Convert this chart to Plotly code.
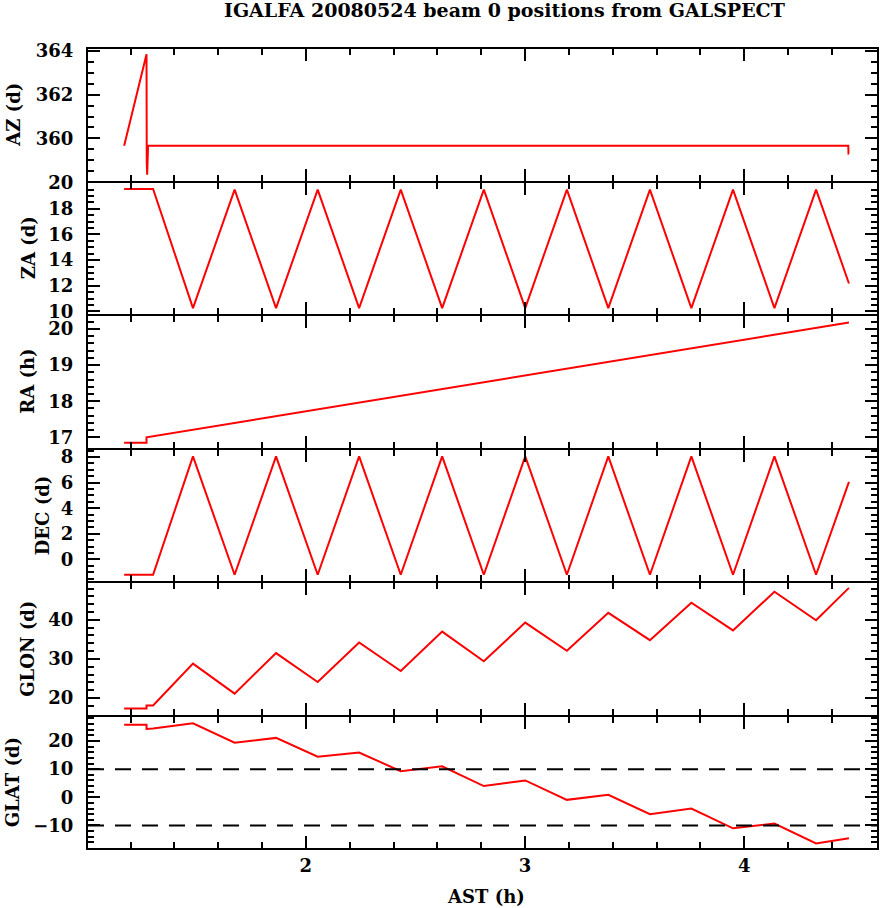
import plotly.graph_objects as go
from plotly.subplots import make_subplots

# ---------------- data ----------------
AZ_T = [1.171, 1.273, 1.274, 1.276, 1.280, 4.475, 4.476, 4.478]
AZ = [359.66, 363.85, 358.90, 358.34, 359.66, 359.66, 359.30, 359.30]

TURN_T = [1.171, 1.303, 1.485, 1.675, 1.864, 2.054, 2.243, 2.433, 2.622, 2.812,
          3.001, 3.191, 3.380, 3.570, 3.759, 3.949, 4.138, 4.328, 4.478]
ZA = [19.54, 19.54, 10.26, 19.50, 10.26, 19.50, 10.26, 19.50, 10.26, 19.50,
      10.26, 19.50, 10.26, 19.50, 10.26, 19.50, 10.26, 19.50, 12.18]
DEC = [-1.20, -1.20, 8.05, -1.20, 8.05, -1.20, 8.05, -1.20, 8.05, -1.20,
       8.05, -1.20, 8.05, -1.20, 8.05, -1.20, 8.05, -1.20, 6.06]

RA_T = [1.171, 1.273, 1.273, 4.478]
RA = [16.85, 16.85, 17.00, 20.18]

GAL_T = [1.171, 1.273, 1.273, 1.303, 1.485, 1.675, 1.864, 2.054, 2.243, 2.433,
         2.622, 2.812, 3.001, 3.191, 3.380, 3.570, 3.759, 3.949, 4.138, 4.328, 4.478]
GLON = [17.3, 17.3, 18.1, 18.1, 28.8, 21.1, 31.5, 24.1, 34.2, 26.9,
        37.0, 29.4, 39.3, 32.1, 41.8, 34.8, 44.4, 37.3, 47.2, 39.9, 48.2]
GLAT = [25.8, 25.8, 24.3, 24.4, 26.3, 19.4, 21.1, 14.4, 15.9, 9.3,
        11.0, 4.0, 6.0, -0.9, 0.9, -6.0, -4.0, -11.0, -9.3, -16.4, -14.5]

GLAT_REF = [10, -10]

PANEL_LABELS = ["AZ (d)", "ZA (d)", "RA (h)", "DEC (d)", "GLON (d)", "GLAT (d)"]
TITLE = "IGALFA 20080524 beam 0 positions from GALSPECT"
XLABEL = "AST (h)"

# ---------------- layout ----------------
W, H = 890, 908
L, R, T, B = 88, 13, 49, 60
PW, PH = W - L - R, H - T - B
GAP = 2  # px between panels, filled by the two 2px axis lines

FONT = dict(family="DejaVu Serif", size=18, color="black", weight="bold")
TFONT = dict(family="DejaVu Serif", size=19, color="black", weight="bold")
RED = "#ff0000"


def minor_cfg(step, lo, hi):
    base = dict(ticks="inside", ticklen=6, tickwidth=2, tickcolor="black",
                showgrid=False)
    if step == 0.2:
        k0 = int(round(lo / step)) + 1
        k1 = int(round(hi / step))
        base.update(tickmode="array",
                    tickvals=[round(k * step, 1) for k in range(k0, k1)])
    else:
        base.update(dtick=step, tick0=0)
    return base


series = [
    (AZ_T, AZ, [358.07, 364.09], 2, 0.5),
    (TURN_T, ZA, [9.8, 20.05], 2, 0.5),
    (RA_T, RA, [16.72, 20.36], 1, 0.2),
    (TURN_T, DEC, [-1.69, 8.59], 2, 0.5),
    (GAL_T, GLON, [15.77, 49.44], 10, 2),
    (GAL_T, GLAT, [-18.0, 28.7], 10, 2),
]
title_x = [14, 28, 28, 42, 28, 12]
XR = [1.006, 4.606]

n = len(series)
fig = make_subplots(rows=n, cols=1, shared_xaxes=True,
                    vertical_spacing=GAP / PH)
for i, (xs, ys, yr, dt, mdt) in enumerate(series):
    fig.add_trace(go.Scatter(x=xs, y=ys, mode="lines",
                             line=dict(color=RED, width=2), showlegend=False),
                  row=i + 1, col=1)
    fig.update_yaxes(range=yr, dtick=dt, tick0=0, row=i + 1, col=1,
                     ticks="inside", ticklen=12, tickwidth=2, tickcolor="black",
                     showline=True, linewidth=2, linecolor="black",
                     mirror="ticks", showgrid=False, zeroline=False,
                     tickfont=FONT, ticklabelstandoff=9,
                     minor=minor_cfg(mdt, yr[0], yr[1]))
    k = "" if i == 0 else str(i + 1)
    dom = fig.layout["yaxis" + k].domain
    fig.add_annotation(text=PANEL_LABELS[i], textangle=-90, font=FONT,
                       xref="paper", yref="paper",
                       x=(title_x[i] - L) / PW, y=(dom[0] + dom[1]) / 2,
                       xanchor="center", yanchor="middle", showarrow=False)

fig.update_xaxes(range=XR, dtick=1, tick0=0,
                 ticks="inside", ticklen=12, tickwidth=2, tickcolor="black",
                 showline=True, linewidth=2, linecolor="black",
                 mirror="ticks", showgrid=False, zeroline=False,
                 tickfont=FONT, minor=minor_cfg(0.2, XR[0], XR[1]))
fig.update_xaxes(showticklabels=True, row=n, col=1)

for v in GLAT_REF:
    fig.add_shape(type="line", xref="x6 domain", yref="y6", x0=0, x1=1,
                  y0=v, y1=v, opacity=1,
                  line=dict(color="black", width=2, dash="16px,11px"))

fig.add_annotation(text=TITLE, font=TFONT, xref="paper", yref="paper",
                   x=(504 - L) / PW, y=1 + (T - 10) / PH,
                   xanchor="center", yanchor="middle", showarrow=False)
fig.add_annotation(text=XLABEL, font=FONT, xref="paper", yref="paper",
                   x=(486 - L) / PW, y=-(896 - (T + PH)) / PH,
                   xanchor="center", yanchor="middle", showarrow=False)

fig.update_layout(template="simple_white", width=W, height=H,
                  margin=dict(l=L, r=R, t=T, b=B),
                  plot_bgcolor="white", paper_bgcolor="white", showlegend=False)
fig.write_html("out.html", config={"displayModeBar": False},
               post_script="document.body.style.margin='0';")
